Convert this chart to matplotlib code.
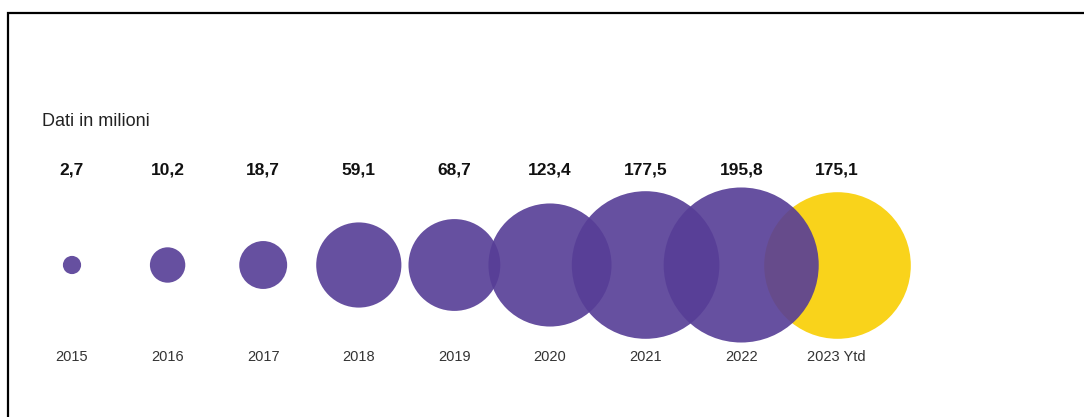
import matplotlib.pyplot as plt
import numpy as np
from matplotlib.patches import Rectangle

plt.rcParams['font.family'] = ['Liberation Sans', 'DejaVu Sans']

years = ["2015", "2016", "2017", "2018", "2019", "2020", "2021", "2022", "2023 Ytd"]
values = [2.7, 10.2, 18.7, 59.1, 68.7, 123.4, 177.5, 195.8, 175.1]
value_labels = ["2,7", "10,2", "18,7", "59,1", "68,7", "123,4", "177,5", "195,8", "175,1"]

purple = "#573e97"
yellow = "#f9d31b"

W, H = 1084, 417
fig = plt.figure(figsize=(W / 100, H / 100), dpi=100)
ax = fig.add_axes([0, 0, 1, 1])

step = 95.6      # px between bubbles
x0 = 72          # px of first bubble
yc = 265         # px (from top) of bubble centres
ax.set_xlim(-x0 / step, (W - x0) / step)
ax.set_ylim(-(H - yc), yc)
ax.axis("off")

x = np.arange(len(years))
# area proportional to value; radius ~5.54 px * sqrt(v)
sizes = (2 * 5.54 * 0.72) ** 2 * np.array(values)

# yellow bubble underneath, purple ones on top
ax.scatter(x[-1:], [0], s=sizes[-1:], c=yellow, linewidths=0, zorder=1)
ax.scatter(x[:-1], np.zeros(len(x) - 1), s=sizes[:-1], c=purple, alpha=0.91,
           linewidths=0, zorder=2)

for xi, lab, yr in zip(x, value_labels, years):
    ax.text(xi, yc - 170, lab, ha="center", va="center", fontsize=12.5,
            fontweight="bold", color="#111111")
    ax.text(xi, yc - 357, yr, ha="center", va="center", fontsize=10.5,
            color="#333333")

fig.text(42 / W, 1 - 122 / H, "Dati in milioni", ha="left", va="center",
         fontsize=13, color="#222222")

# frame lines (top and left)
fig.patches.append(Rectangle((7.5 / W, -0.05), 1.1, (H - 12.5) / H + 0.05,
                             transform=fig.transFigure, fill=False,
                             edgecolor="black", linewidth=1.6))

fig.savefig("out.png", dpi=100, facecolor="white")
